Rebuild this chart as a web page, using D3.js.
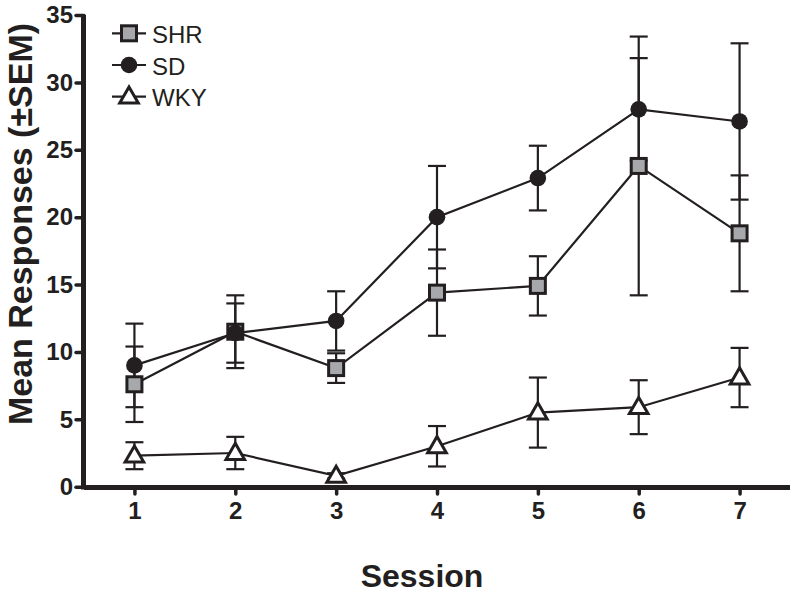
<!DOCTYPE html>
<html><head><meta charset="utf-8">
<script src="https://cdn.jsdelivr.net/npm/d3@7"></script>
<style>html,body{margin:0;padding:0;background:#fff;}svg{display:block;}</style>
</head><body>
<svg id="chart" width="800" height="594"></svg>
<script>
const sessions = [1, 2, 3, 4, 5, 6, 7];
const yTicks = [0, 5, 10, 15, 20, 25, 30, 35];
const shrMean = [7.6, 11.5, 8.8, 14.4, 14.9, 23.8, 18.8];
const shrSem  = [2.8, 2.7, 1.1, 3.2, 2.2, 9.6, 4.3];
const sdMean  = [9.0, 11.4, 12.3, 20.0, 22.9, 28.0, 27.1];
const sdSem   = [3.1, 2.2, 2.2, 3.8, 2.4, 3.8, 5.8];
const wkyMean = [2.3, 2.5, 0.8, 3.0, 5.5, 5.9, 8.1];
const wkySem  = [1.0, 1.2, 0.2, 1.5, 2.6, 2.0, 2.2];
const seriesNames = ["SHR", "SD", "WKY"];

const ink = "#231f20";
const series = [
  {name: seriesNames[0], mean: shrMean, sem: shrSem, shape: "square", fill: "#a7a8ab"},
  {name: seriesNames[1], mean: sdMean, sem: sdSem, shape: "circle", fill: ink},
  {name: seriesNames[2], mean: wkyMean, sem: wkySem, shape: "triangle", fill: "#ffffff"}
];

const svg = d3.select("#chart");
const x = d3.scaleLinear().domain([0.5, 7.5]).range([84, 790]);
const y = d3.scaleLinear().domain([0, 35]).range([486.7, 15]);

// axes
const gx = svg.append("g").attr("transform", "translate(0,487)")
  .call(d3.axisBottom(x).tickValues(sessions).tickSize(7).tickPadding(8).tickFormat(d3.format("d")));
const gy = svg.append("g").attr("transform", "translate(84,0)")
  .call(d3.axisLeft(y).tickValues(yTicks).tickSize(8).tickPadding(3).tickFormat(d3.format("d")));
[gx, gy].forEach(g => {
  g.select(".domain").attr("stroke", ink).attr("stroke-width", 5).attr("stroke-linecap", "butt");
  g.selectAll(".tick line").attr("stroke", ink).attr("stroke-width", 3.5).attr("stroke-linecap", "round");
  g.selectAll(".tick text").attr("fill", ink).attr("font-family", "Liberation Sans, Arial, sans-serif")
    .attr("font-weight", "bold").attr("font-size", 24);
});
gx.select(".domain").attr("d", "M84,0.5H790");
gy.select(".domain").attr("d", "M-0.5,15V489.5");
gx.selectAll(".tick text").attr("dy", "0.71em");

// axis titles
svg.append("text").attr("x", 422).attr("y", 587).attr("text-anchor", "middle")
  .attr("font-family", "Liberation Sans, Arial, sans-serif").attr("font-weight", "bold")
  .attr("font-size", 32).attr("fill", ink).text("Session");
svg.append("text").attr("transform", "translate(32,224) rotate(-90)").attr("text-anchor", "middle")
  .attr("font-family", "Liberation Sans, Arial, sans-serif").attr("font-weight", "bold")
  .attr("font-size", 34).attr("fill", ink).text("Mean Responses (\u00B1SEM)");

function drawMarker(g, shape, fill, cx, cy) {
  if (shape === "square") {
    g.append("rect").attr("x", cx - 7.5).attr("y", cy - 7.5).attr("width", 15).attr("height", 15)
      .attr("fill", fill).attr("stroke", ink).attr("stroke-width", 3);
  } else if (shape === "circle") {
    g.append("circle").attr("cx", cx).attr("cy", cy).attr("r", 8.3).attr("fill", fill);
  } else {
    const sym = d3.symbol().type(d3.symbolTriangle).size(150);
    g.append("path").attr("d", sym()).attr("transform", `translate(${cx},${cy + 1})`)
      .attr("fill", fill).attr("stroke", ink).attr("stroke-width", 3).attr("stroke-linejoin", "miter");
  }
}

// error bars
const gErr = svg.append("g").attr("stroke", ink).attr("stroke-width", 2.2).attr("fill", "none");
series.forEach(s => {
  sessions.forEach((d, i) => {
    const cx = x(d), top = y(s.mean[i] + s.sem[i]), bot = y(s.mean[i] - s.sem[i]);
    gErr.append("line").attr("x1", cx).attr("x2", cx).attr("y1", top).attr("y2", bot);
    gErr.append("line").attr("x1", cx - 9).attr("x2", cx + 9).attr("y1", top).attr("y2", top);
    gErr.append("line").attr("x1", cx - 9).attr("x2", cx + 9).attr("y1", bot).attr("y2", bot);
  });
});

// lines
const line = d3.line().x((d, i) => x(sessions[i])).y(d => y(d));
series.forEach(s => {
  svg.append("path").attr("d", line(s.mean)).attr("fill", "none").attr("stroke", ink).attr("stroke-width", 2.2);
});

// markers
series.forEach(s => {
  const g = svg.append("g");
  sessions.forEach((d, i) => drawMarker(g, s.shape, s.fill, x(d), y(s.mean[i])));
});

// legend
const leg = svg.append("g");
series.forEach((s, i) => {
  const cy = 33.3 + i * 31.7;
  leg.append("line").attr("x1", 112).attr("x2", 146).attr("y1", cy).attr("y2", cy)
    .attr("stroke", ink).attr("stroke-width", 2.2);
  drawMarker(leg, s.shape, s.fill, 129, cy);
  leg.append("text").attr("x", 152).attr("y", cy + 9.5).attr("font-family", "Liberation Sans, Arial, sans-serif")
    .attr("font-size", 24).attr("fill", ink).text(s.name);
});
</script>
</body></html>
